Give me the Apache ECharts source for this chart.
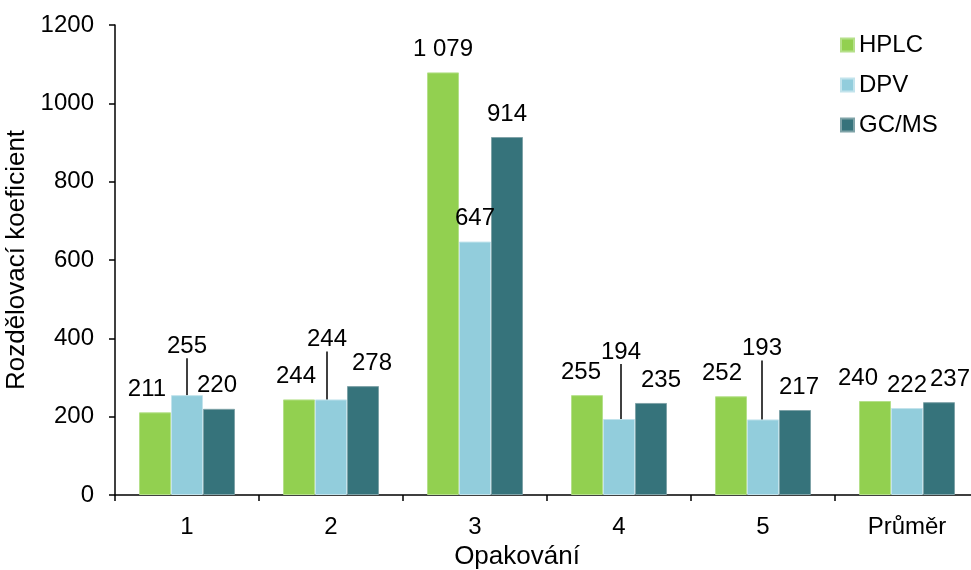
<!DOCTYPE html>
<html>
<head>
<meta charset="utf-8">
<script src="https://cdn.jsdelivr.net/npm/echarts@6/dist/echarts.min.js"></script>
<style>
  html, body { margin: 0; padding: 0; background: #fff; }
  #chart { width: 971px; height: 570px; }
</style>
</head>
<body>
<div id="chart"></div>
<script>
const categories = ['1', '2', '3', '4', '5', 'Průměr']
const seriesNames = ['HPLC', 'DPV', 'GC/MS']
const hplcValues = [211, 244, 1079, 255, 252, 240]
const dpvValues = [255, 244, 647, 194, 193, 222]
const gcmsValues = [220, 278, 914, 235, 217, 237]
const yTicks = { min: 0, max: 1200, step: 200 }

// posuny popisků (px), jako v předloze
const labelShift = [
  [[-8, 0], [-3, 0], [0, 0], [-6, 0], [-9, 0], [-17, 0]],
  [[0, -26], [-4, -37], [0, 0], [2, -44], [-1, -48], [0, 0]],
  [[-2, 0], [9, 0], [0, 0], [10, 0], [4, 0], [11, 0]]
]
const colors = ['#92D050', '#92CDDC', '#36737B']
const borders = ['#B5E08A', '#C2E3EC', '#7FA3A8']
const font = "'Liberation Sans', Arial, sans-serif"

const fmt = (v) => {
  const s = String(v)
  return s.length > 3 ? s.slice(0, s.length - 3) + ' ' + s.slice(-3) : s
}

const chart = echarts.init(document.getElementById('chart'))

const makeSeries = (name, values, idx) => ({
  name,
  type: 'bar',
  barWidth: 32,
  barGap: '0%',
  itemStyle: { color: colors[idx], borderColor: borders[idx], borderWidth: 1 },
  data: values.map((v, i) => {
    const item = { value: v }
    // DPV: vodicí čára jen u posunutých popisků
    if (idx === 1 && labelShift[1][i][1] === 0) item.labelLine = { show: false }
    return item
  }),
  label: {
    show: true,
    position: 'top',
    distance: 11,
    fontSize: 24,
    fontFamily: font,
    color: '#000',
    formatter: (p) => fmt(p.value)
  },
  labelLine: {
    show: idx === 1,
    lineStyle: { color: '#000', width: 1.5 }
  },
  labelLayout: (p) => ({
    dx: labelShift[idx][p.dataIndex][0],
    dy: labelShift[idx][p.dataIndex][1]
  })
})

const option = {
  animation: false,
  backgroundColor: '#fff',
  textStyle: { fontFamily: font, color: '#000' },
  grid: { left: 115, top: 25, width: 864, height: 470, outerBoundsMode: 'none', containLabel: false },
  legend: {
    orient: 'vertical',
    left: 835,
    top: 28,
    itemWidth: 13,
    itemHeight: 13,
    itemGap: 16,
    icon: 'rect',
    textStyle: { fontSize: 24, fontFamily: font, color: '#000' },
    data: seriesNames
  },
  xAxis: {
    type: 'category',
    data: categories,
    boundaryGap: true,
    name: 'Opakování',
    nameLocation: 'middle',
    nameGap: 43,
    nameTextStyle: { fontSize: 26, fontFamily: font, color: '#000', padding: [0, 60, 0, 0] },
    axisLine: { lineStyle: { color: '#000', width: 1.5 } },
    axisTick: { show: true, length: 6, lineStyle: { color: '#000', width: 1.5 } },
    axisLabel: { fontSize: 24, fontFamily: font, color: '#000', margin: 20 }
  },
  yAxis: {
    type: 'value',
    min: yTicks.min,
    max: yTicks.max,
    interval: yTicks.step,
    name: 'Rozdělovací koeficient',
    nameLocation: 'middle',
    nameGap: 79,
    nameTextStyle: { fontSize: 26, fontFamily: font, color: '#000' },
    axisLine: { show: true, lineStyle: { color: '#000', width: 1.5 } },
    axisTick: { show: true, length: 6, lineStyle: { color: '#000', width: 1.5 } },
    splitLine: { show: false },
    axisLabel: { fontSize: 24, fontFamily: font, color: '#000', margin: 21, formatter: (v) => String(v) }
  },
  series: [
    makeSeries(seriesNames[0], hplcValues, 0),
    makeSeries(seriesNames[1], dpvValues, 1),
    makeSeries(seriesNames[2], gcmsValues, 2)
  ]
}

chart.setOption(option)
</script>
</body>
</html>
